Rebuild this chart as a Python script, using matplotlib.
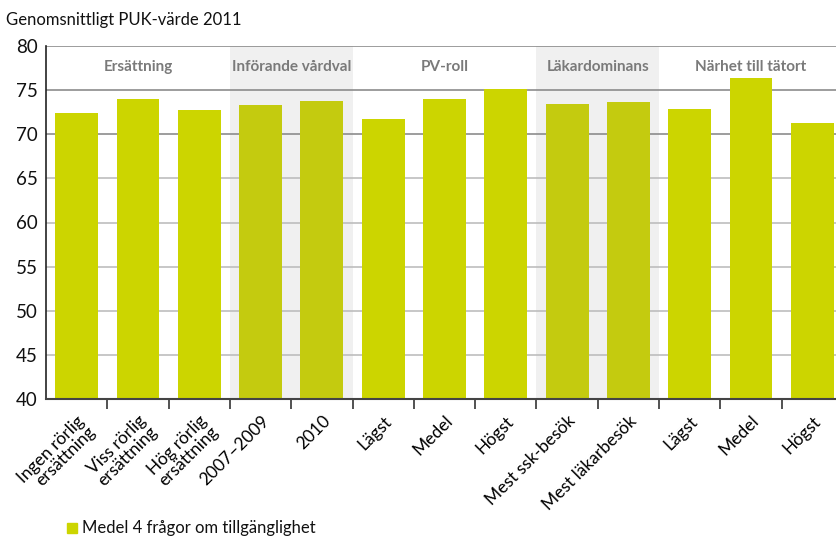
import matplotlib.pyplot as plt
import numpy as np
from matplotlib.patches import Rectangle

plt.rcParams['font.family'] = ['Lato', 'DejaVu Sans']

categories = ['Ingen rörlig\nersättning', 'Viss rörlig\nersättning', 'Hög rörlig\nersättning',
              '2007–2009', '2010', 'Lägst', 'Medel', 'Högst',
              'Mest ssk-besök', 'Mest läkarbesök', 'Lägst', 'Medel', 'Högst']
values = [72.4, 74.0, 72.8, 73.3, 73.8, 71.7, 74.0, 75.1, 73.4, 73.6, 72.9, 76.4, 71.3]

groups = ['Ersättning', 'Införande vårdval', 'PV-roll', 'Läkardominans', 'Närhet till tätort']
group_sizes = [3, 2, 3, 2, 3]
group_shaded = [False, True, False, True, False]

W, H = 837, 538
fig = plt.figure(figsize=(W / 100, H / 100), dpi=100)
ax = fig.add_axes([46 / W, 1 - 399 / H, 797 / W, (399 - 46) / H])

n = len(values)
x = np.arange(n)
ax.set_xlim(-0.5, n - 0.5)
ax.set_ylim(40, 80)

# group header shading and bar colours
bar_colors = []
start = 0
for name, size, shaded in zip(groups, group_sizes, group_shaded):
    if shaded:
        ax.add_patch(Rectangle((start - 0.5, 40), size, 40, color='#f0f0f0', zorder=0, lw=0))
    bar_colors += ['#c4cb0f' if shaded else '#ccd500'] * size
    ax.text(start - 0.5 + size / 2, 77.6, name, ha='center', va='center',
            fontsize=11, fontweight='bold', color='#7a7a7a')
    start += size

for yv in range(45, 81, 5):
    ax.axhline(yv, color='#8c8c8c' if yv >= 70 else '#bdbdbd', lw=1.2, zorder=1)

ax.bar(x, values, width=0.7, color=bar_colors, zorder=2)

for s in ['top', 'right']:
    ax.spines[s].set_visible(False)
ax.spines['left'].set_color('#222222')
ax.spines['bottom'].set_color('#444444')
ax.spines['left'].set_linewidth(1.2)
ax.spines['bottom'].set_linewidth(1.5)

ax.set_yticks(range(40, 81, 5))
ax.tick_params(axis='y', length=0, labelsize=13.5, pad=6, colors='#111111')
ax.set_xticks(x)
ax.set_xticklabels(categories, rotation=45, ha='right', va='top', rotation_mode='anchor',
                   fontsize=12.5, linespacing=0.95)
ax.tick_params(axis='x', which='major', length=0, pad=10)
ax.set_xticks(np.arange(0.5, n - 0.5, 1), minor=True)
ax.tick_params(axis='x', which='minor', length=7, width=1.2, color='#333333')

fig.text(6 / W, 1 - 20 / H, 'Genomsnittligt PUK-värde 2011', fontsize=12,
         ha='left', va='center', color='#111111')

fig.patches.append(Rectangle((67 / W, 1 - 533 / H), 10 / W, 10 / H,
                             transform=fig.transFigure, color='#ccd500'))
fig.text(82 / W, 1 - 528 / H, 'Medel 4 frågor om tillgänglighet', fontsize=12,
         ha='left', va='center', color='#111111')

fig.savefig('out.png', dpi=100)
